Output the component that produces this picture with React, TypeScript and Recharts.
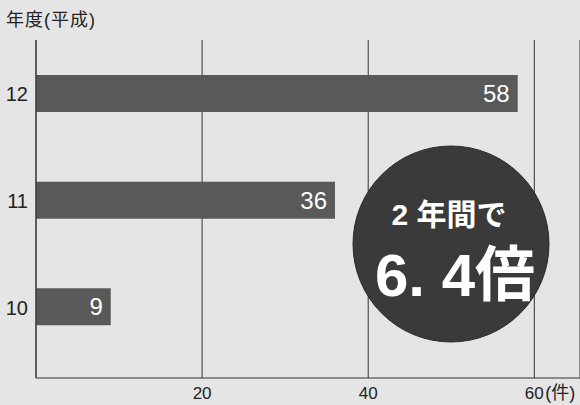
import { Bar, BarChart, CartesianGrid, LabelList, XAxis, YAxis } from "recharts";

const years = ["12", "11", "10"];
const counts = [58, 36, 9];
const xTicks = [20, 40, 60];

const data = years.map((year, i) => ({ year, count: counts[i] }));

const FONT = "'Liberation Sans', 'Noto Sans CJK JP', sans-serif";

const XTick = (props: any) => {
  const { x, y, payload } = props;
  return (
    <g>
      <text x={x} y={y + 13} textAnchor="middle" fontSize={17} fill="#222" fontFamily={FONT}>
        {payload.value}
      </text>
      {payload.value === 60 && (
        <text x={x + 11} y={y + 13} textAnchor="start" fontSize={18} fill="#222" fontFamily={FONT}>
          (件)
        </text>
      )}
    </g>
  );
};

const YTick = (props: any) => {
  const { x, y, payload } = props;
  return (
    <text x={x} y={y + 8} textAnchor="end" fontSize={20} fill="#222" fontFamily={FONT}>
      {payload.value}
    </text>
  );
};

export default function App() {
  return (
    <div
      style={{
        position: "absolute",
        left: 0,
        top: 0,
        width: 580,
        height: 405,
        background: "#e5e5e5",
        fontFamily: FONT,
        overflow: "hidden",
      }}
    >
      <div
        style={{
          position: "absolute",
          left: 6,
          top: 5,
          fontSize: 18,
          letterSpacing: 1,
          color: "#222",
        }}
      >
        年度(平成)
      </div>
      <BarChart
        layout="vertical"
        width={580}
        height={405}
        data={data}
        margin={{ top: 40, right: 0, left: 0, bottom: 0 }}
      >
        <CartesianGrid horizontal={false} stroke="#333" strokeWidth={1} />
        <XAxis
          type="number"
          domain={[0, 65.5]}
          ticks={xTicks}
          height={27}
          tickLine={false}
          axisLine={{ stroke: "#333" }}
          tick={<XTick />}
        />
        <YAxis
          type="category"
          dataKey="year"
          width={36}
          tickLine={false}
          axisLine={{ stroke: "#333" }}
          padding={{ top: 0, bottom: 18 }}
          tick={<YTick />}
        />
        <Bar dataKey="count" fill="#595959" barSize={37} isAnimationActive={false}>
          <LabelList
            dataKey="count"
            position="insideRight"
            offset={8}
            fill="#fff"
            fontSize={24}
            fontFamily={FONT}
          />
        </Bar>
      </BarChart>
      <svg
        width={580}
        height={405}
        style={{ position: "absolute", left: 0, top: 0, pointerEvents: "none" }}
      >
        <circle cx={451} cy={244} r={98} fill="#3a3a3a" stroke="#2a2a2a" strokeWidth={1} />
        <text
          x={449}
          y={225}
          textAnchor="middle"
          fontSize={30}
          fontWeight="bold"
          fill="#fff"
          fontFamily={FONT}
        >
          2 年間で
        </text>
        <text
          x={455}
          y={296}
          textAnchor="middle"
          fontSize={60}
          fontWeight="bold"
          fill="#fff"
          fontFamily={FONT}
        >
          6. 4倍
        </text>
      </svg>
    </div>
  );
}
